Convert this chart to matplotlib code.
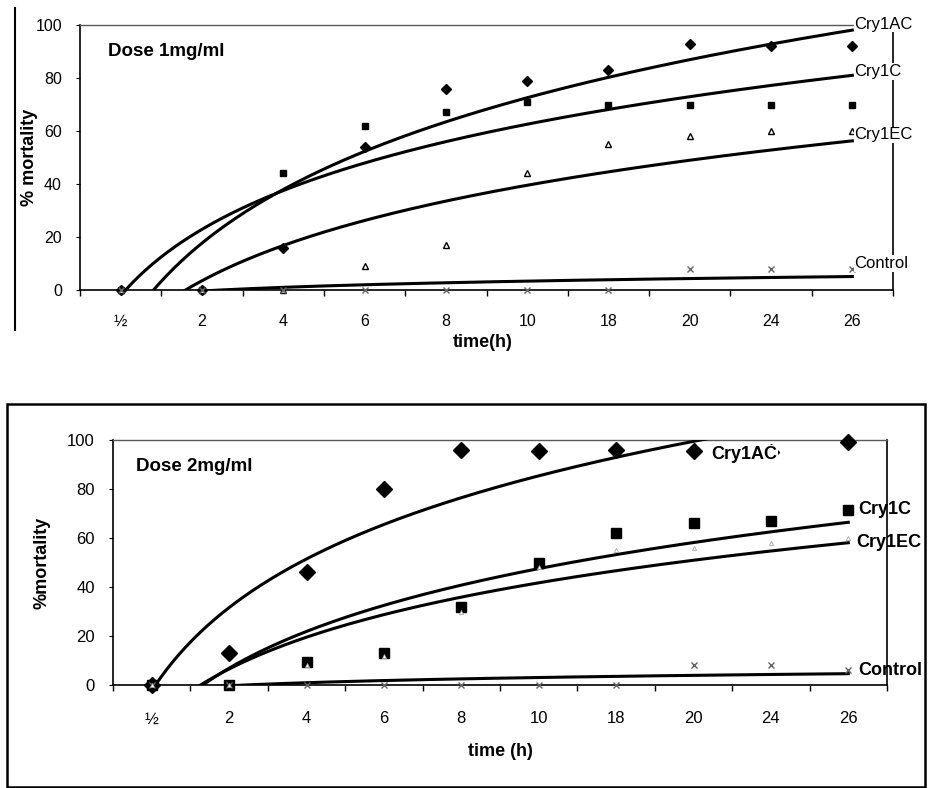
import numpy as np
import matplotlib.pyplot as plt
from matplotlib.lines import Line2D
from matplotlib.patches import Rectangle

plt.rcParams['font.family'] = ['Liberation Sans', 'DejaVu Sans']

times = ['½', '2', '4', '6', '8', '10', '18', '20', '24', '26']

# dose 1 mg/ml
d1_cry1ac = [0, 0, 16, 54, 76, 79, 83, 93, 92, 92]
d1_cry1c = [0, 0, 44, 62, 67, 71, 70, 70, 70, 70]
d1_cry1ec = [0, 0, 0, 9, 17, 44, 55, 58, 60, 60]
d1_control = [0, 0, 0, 0, 0, 0, 0, 8, 8, 8]

# dose 2 mg/ml
d2_cry1ac = [0, 13, 46, 80, 96, 95.5, 96, 95.5, 95, 99]
d2_cry1c = [0, 0, 9.5, 13, 32, 50, 62, 66, 67, 71.5]
d2_cry1ec = [0, 0, 8, 12, 30, 48, 55, 56, 58, 60]
d2_control = [0, 0, 0, 0, 0, 0, 0, 8, 8, 6]

W, H = 931, 788


def fx(px):
    return px / W


def fy(py):
    return 1 - py / H


def log_trend(y):
    # excel style logarithmic trendline, x = 1..n
    x = np.arange(1, len(y) + 1)
    a, b = np.polyfit(np.log(x), y, 1)
    xs = np.linspace(1, len(y), 300)
    return xs - 1, a * np.log(xs) + b


def setup_axis(ax, fs):
    n = len(times)
    ax.set_xlim(-0.5, n - 0.5)
    ax.set_ylim(0, 100)
    ax.set_xticks(np.arange(n))
    ax.set_xticklabels(times, fontsize=fs)
    ax.set_xticks(np.arange(-0.5, n, 1), minor=True)
    ax.tick_params(axis='x', which='major', length=0, pad=17)
    ax.tick_params(axis='x', which='minor', length=4, direction='out', width=1)
    ax.set_yticks(np.arange(0, 101, 20))
    ax.tick_params(axis='y', length=3, direction='out', labelsize=fs, pad=10)
    for s in ax.spines.values():
        s.set_linewidth(1.2)
        s.set_color('black')
    ax.spines['top'].set_color('0.35')
    ax.spines['top'].set_linewidth(1)


fig = plt.figure(figsize=(W / 100, H / 100), dpi=100)
white_box = dict(boxstyle='square,pad=0.05', fc='white', ec='none')

# ---------- top panel ----------
ax1 = fig.add_axes([fx(80), fy(290), fx(893) - fx(80), fy(25) - fy(290)])
setup_axis(ax1, 11.5)
xi = np.arange(len(times))
ax1.plot(xi, d1_cry1ac, 'D', color='black', ms=5, clip_on=False, zorder=4)
ax1.plot(xi, d1_cry1c, 's', color='black', ms=5, clip_on=False, zorder=4)
ax1.plot(xi, d1_cry1ec, '^', mfc='white', mec='black', ms=5, clip_on=False, zorder=4)
ax1.plot(xi, d1_control, 'x', color='0.4', ms=4, clip_on=False, zorder=4)

top_labels = [('Cry1AC', d1_cry1ac, 6), ('Cry1C', d1_cry1c, 4),
              ('Cry1EC', d1_cry1ec, 6), ('Control', d1_control, 13)]
for name, ys, dy in top_labels:
    tx, ty = log_trend(ys)
    ax1.plot(tx, ty, color='black', lw=2.2, zorder=3)
    ax1.annotate(name, xy=(tx[-1], ty[-1]), xytext=(2, dy),
                 textcoords='offset pixels', fontsize=12, va='center',
                 ha='left', annotation_clip=False, bbox=white_box, zorder=6)

ax1.text(0.035, 0.9, 'Dose 1mg/ml', transform=ax1.transAxes,
         fontsize=13.5, fontweight='bold', va='center')
fig.text(fx(29), fy(157), '% mortality', rotation=90, fontsize=13,
         fontweight='bold', ha='center', va='center')
fig.text(fx(483), fy(343), 'time(h)', fontsize=13, fontweight='bold',
         ha='center', va='center')
fig.add_artist(Line2D([fx(15), fx(15)], [fy(8), fy(330)], color='black', lw=1.5))

# ---------- bottom panel ----------
ax2 = fig.add_axes([fx(113), fy(685), fx(887) - fx(113), fy(440) - fy(685)])
setup_axis(ax2, 12)
ax2.tick_params(axis='x', which='major', pad=19)
ax2.set_yticks(np.arange(20, 100, 20), minor=True)
ax2.grid(True, axis='y', which='minor', color='0.5', ls=':', lw=0.8)
ax2.plot(xi, d2_cry1ac, 'D', color='black', ms=8, clip_on=False, zorder=4)
ax2.plot(xi, d2_cry1c, 's', color='black', ms=7, clip_on=False, zorder=4)
ax2.plot(xi, d2_cry1ec, '^', mfc='white', mec='0.6', ms=3, mew=0.5,
         clip_on=False, zorder=5)
ax2.plot(xi, d2_control, 'x', color='0.4', ms=5, clip_on=False, zorder=4)

for ys in [d2_cry1ac, d2_cry1c, d2_cry1ec, d2_control]:
    tx, ty = log_trend(ys)
    ax2.plot(tx, ty, color='black', lw=2.2, zorder=3)

lab_kw = dict(textcoords='offset pixels', fontsize=13, fontweight='bold',
              va='center', ha='left', annotation_clip=False, zorder=6)
ax2.annotate('Cry1AC', xy=(7, d2_cry1ac[7]), xytext=(18, -3),
             bbox=white_box, **lab_kw)
ax2.annotate('Cry1C', xy=(9, d2_cry1c[9]), xytext=(10, 0), **lab_kw)
tx, ty = log_trend(d2_cry1ec)
ax2.annotate('Cry1EC', xy=(tx[-1], ty[-1]), xytext=(8, 0), **lab_kw)
ax2.annotate('Control', xy=(9, d2_control[9]), xytext=(10, 0), **lab_kw)

ax2.text(0.03, 0.89, 'Dose 2mg/ml', transform=ax2.transAxes,
         fontsize=13.5, fontweight='bold', va='center')
fig.text(fx(42), fy(563), '%mortality', rotation=90, fontsize=13,
         fontweight='bold', ha='center', va='center')
fig.text(fx(500), fy(752), 'time (h)', fontsize=13, fontweight='bold',
         ha='center', va='center')
fig.add_artist(Rectangle((fx(7), fy(787)), fx(925) - fx(7), fy(404) - fy(787),
                         fill=False, ec='black', lw=1.8))

fig.savefig('out.png', dpi=100)
